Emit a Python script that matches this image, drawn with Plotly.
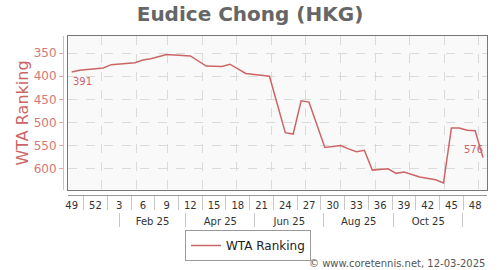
import plotly.graph_objects as go
import pandas as pd

# ---- data ----
first_week_date = "2024-12-06"
rankings = [391, 387, None, None, 382, 375, None, None, 371, 365, 362, 357, 353,
            None, None, 356, None, 378, None, 379, 374, None, 394, None, None, 400,
            None, 522, 525, 453, 456, None, 554, None, 550, 557, 563, 560, 603,
            None, 600, 610, 607, None, 618, None, 624, 631, 512, 512, 517, 518, 576]
week_labels = ["49", "52", "3", "6", "9", "12", "15", "18", "21", "24", "27",
               "30", "33", "36", "39", "42", "45", "48"]
month_labels = ["Feb 25", "Apr 25", "Jun 25", "Aug 25", "Oct 25"]
month_separators = ["2025-01-17", "2025-03-17", "2025-05-17", "2025-07-17",
                    "2025-09-17", "2025-11-17"]
y_ticks = [350, 400, 450, 500, 550, 600]
series_name = "WTA Ranking"
title_text = "Eudice Chong (HKG)"
footer_text = "© www.coretennis.net, 12-03-2025"

dates = pd.date_range(first_week_date, periods=len(rankings), freq="7D")
label_dates = list(dates[0::3][:len(week_labels)])
sep_dates = [d + pd.Timedelta(days=10.5) for d in dates[0::3][:len(week_labels) - 1]]
msep = pd.to_datetime(month_separators)
month_label_dates = [msep[i] + (msep[i + 1] - msep[i]) / 2 for i in range(len(month_labels))]

x_range = ["2024-12-03", "2025-12-08 12:00"]
y_range = [646, 313]

LINE = "#cc6666"
FONT = "DejaVu Sans"

fig = go.Figure()
fig.add_trace(go.Scatter(x=dates, y=rankings, mode="lines", name=series_name,
                         line=dict(color=LINE, width=1.5), connectgaps=True))

# invisible helper traces so that the extra axes get drawn
for xa, ya in [("x", "y2"), ("x2", "y"), ("x3", "y"), ("x4", "y"), ("x5", "y")]:
    fig.add_trace(go.Scatter(x=[dates[0]], y=[None], xaxis=xa, yaxis=ya, mode="lines",
                             showlegend=False, hoverinfo="skip"))

valid = [(d, v) for d, v in zip(dates, rankings) if v is not None]
fig.add_annotation(x=valid[0][0], y=valid[0][1], text=str(valid[0][1]), showarrow=False,
                   xanchor="left", yanchor="top", yshift=-2, xshift=-1,
                   font=dict(size=10, color=LINE))
fig.add_annotation(x=valid[-1][0], y=valid[-1][1], text=str(valid[-1][1]), showarrow=False,
                   xanchor="right", yanchor="bottom", yshift=1, xshift=2,
                   font=dict(size=10, color=LINE))

H_PLOT = 234  # plotting region height (270 - 36 - 0)
def ypos(px):
    return (270 - px) / H_PLOT

common_x = dict(type="date", range=x_range, showgrid=False, zeroline=False)

fig.update_layout(
    width=500, height=270,
    margin=dict(l=63, r=13, t=36, b=0),
    paper_bgcolor="white", plot_bgcolor="#f9f9f9",
    font=dict(family=FONT, color="#333"),
    title=dict(text="<b>" + title_text + "</b>", x=0.5, xref="container",
               y=1 - 14 / 270, yanchor="middle",
               font=dict(size=20, color="#666", family=FONT)),
    xaxis=dict(type="date", range=x_range, domain=[5.3 / 424, 1],
               showgrid=True, gridcolor="#dadada", griddash="dash", gridwidth=1,
               tick0="2025-01-01", dtick="M1", showticklabels=False, ticks="",
               showline=True, mirror=True, linecolor="#777", linewidth=1, zeroline=False),
    yaxis=dict(range=y_range, domain=[ypos(190), 1], tickvals=y_ticks,
               showticklabels=False, ticks="", showgrid=True, gridcolor="#dadada",
               griddash="dash", showline=True, mirror=True, linecolor="#777",
               linewidth=1, zeroline=False),
    yaxis2=dict(overlaying="y", anchor="free", position=0, range=y_range,
                tickvals=y_ticks, ticks="outside", ticklen=4, tickcolor="#e3a8a8",
                showline=True, linecolor="#e8b4b4", linewidth=1, showgrid=False,
                zeroline=False, tickfont=dict(size=12, color="#d27878"),
                title=dict(text=series_name, font=dict(size=16, color="#cc6666"),
                           standoff=0)),
    xaxis2=dict(overlaying="x", anchor="free", position=ypos(195), **common_x,
                tickvals=sep_dates, ticks="outside", ticklen=14, tickcolor="#c8c8c8",
                showticklabels=False, showline=True, linecolor="#999", linewidth=1),
    xaxis3=dict(overlaying="x", anchor="free", position=ypos(195), **common_x,
                tickvals=label_dates, ticktext=week_labels, ticks="",
                ticklabelstandoff=3,
                showline=False, tickfont=dict(size=10, color="#333")),
    xaxis4=dict(overlaying="x", anchor="free", position=ypos(212), **common_x,
                tickvals=list(msep), ticks="outside", ticklen=14, tickcolor="#c8c8c8",
                showticklabels=False, showline=False),
    xaxis5=dict(overlaying="x", anchor="free", position=ypos(212), **common_x,
                tickvals=month_label_dates, ticktext=month_labels, ticks="",
                ticklabelstandoff=2,
                showline=False, tickfont=dict(size=10, color="#333")),
    showlegend=True,
    legend=dict(orientation="h", x=(248 - 63) / 424, xanchor="center",
                y=ypos(230), yanchor="top", bordercolor="#999", borderwidth=1,
                itemwidth=30, bgcolor="white", font=dict(size=12, color="#222")),
)

fig.add_annotation(xref="paper", yref="paper", x=1, y=ypos(263), xanchor="right",
                   yanchor="middle", text=footer_text, showarrow=False,
                   font=dict(size=10, color="#555"))

fig.write_html("out.html")
